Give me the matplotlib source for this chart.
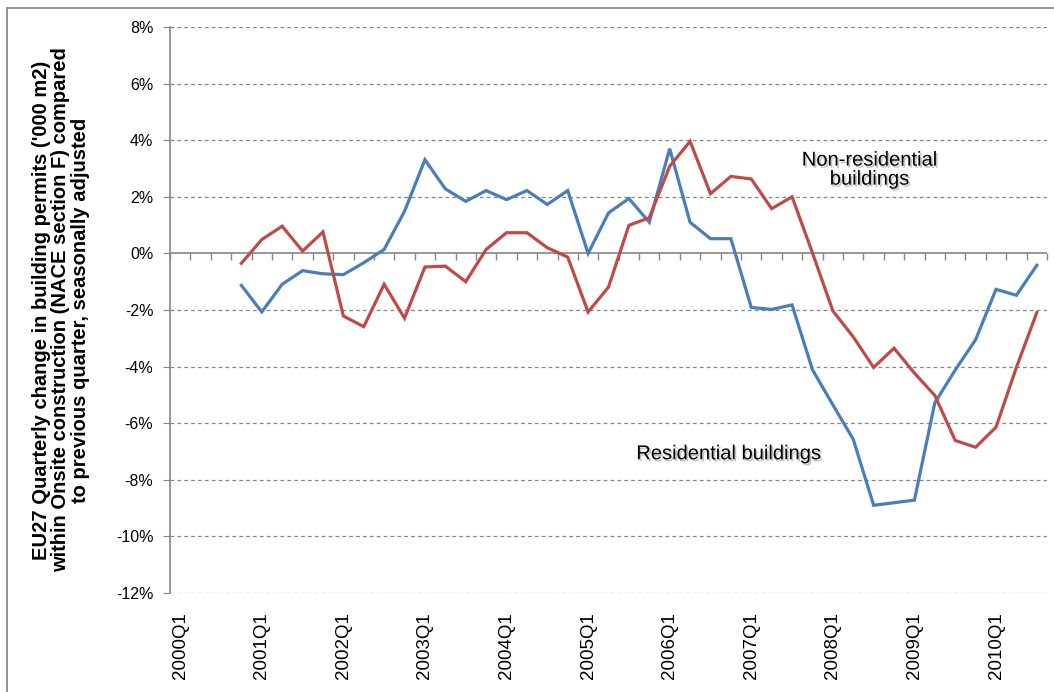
import numpy as np
import matplotlib
matplotlib.use("Agg")
import matplotlib.pyplot as plt
from matplotlib.patches import Rectangle
import matplotlib.patheffects as pe

plt.rcParams['font.family'] = ['Liberation Sans', 'DejaVu Sans']

# quarters 2000Q1 .. 2010Q3 (category axis)
quarters = ['%dQ%d' % (y, q) for y in range(2000, 2011) for q in range(1, 5)][:43]

# data starts at 2000Q4 (% change on previous quarter)
start = 3
residential = [-1.13, -2.07, -1.09, -0.61, -0.72, -0.75, -0.33, 0.14, 1.49, 3.31,
               2.28, 1.84, 2.22, 1.90, 2.22, 1.73, 2.22, 0.00, 1.43, 1.94,
               1.10, 3.70, 1.10, 0.52, 0.52, -1.91, -1.98, -1.82, -4.11, -5.35,
               -6.57, -8.90, -8.81, -8.72, -5.28, -4.12, -3.05, -1.27, -1.48, -0.42]
non_residential = [-0.35, 0.49, 0.96, 0.08, 0.76, -2.21, -2.59, -1.09, -2.29, -0.48,
                   -0.45, -1.00, 0.14, 0.73, 0.73, 0.20, -0.13, -2.07, -1.19, 0.99,
                   1.26, 3.08, 3.96, 2.11, 2.72, 2.63, 1.58, 2.00, 0.02, -2.03,
                   -2.95, -4.03, -3.35, -4.23, -5.02, -6.61, -6.85, -6.14, -4.03, -2.09]

yticks = list(range(-12, 10, 2))

blue = '#4A7EBB'
red = '#BE4B48'
axis_grey = '#868686'

fig = plt.figure(figsize=(10.54, 6.92), dpi=100)
ax = fig.add_axes([170 / 1054, 1 - 593 / 692, (1047 - 170) / 1054, (593 - 27) / 692])

x = np.arange(start, start + len(residential))
ax.plot(x, residential, color=blue, lw=2.3, solid_joinstyle='miter', zorder=3)
ax.plot(x, non_residential, color=red, lw=2.3, solid_joinstyle='miter', zorder=3)

ax.set_xlim(-0.5, len(quarters) - 0.5)
ax.set_ylim(-12, 8)

# y axis
ax.set_yticks(yticks)
ax.set_yticklabels(['%d%%' % v for v in yticks], fontsize=11.5)
ax.tick_params(axis='y', direction='out', length=5, color=axis_grey, pad=7)
for v in yticks:
    if v != 0:
        ax.axhline(v, color=axis_grey, lw=0.9, ls=(0, (3, 2.5)), zorder=1)
ax.axhline(0, color=axis_grey, lw=1.2, zorder=2)

# category tick marks hanging under the zero line
bounds = np.arange(len(quarters) + 1) - 0.5
ax.vlines(bounds, -0.22, 0, color=axis_grey, lw=1.0, zorder=2, clip_on=False)

# x labels at the bottom
major = list(range(0, len(quarters), 4))
ax.set_xticks(major)
ax.set_xticklabels([quarters[i] for i in major], rotation=90, fontsize=13.5, va='top')
ax.tick_params(axis='x', length=0, pad=14)

for s in ['top', 'right', 'bottom']:
    ax.spines[s].set_visible(False)
ax.spines['left'].set_color(axis_grey)
ax.spines['left'].set_linewidth(1.2)

# annotations
shadow = [pe.withSimplePatchShadow(offset=(1.2, -1.5), shadow_rgbFace='#555555', alpha=0.35)]
ax.text(33.8, 2.96, 'Non-residential\nbuildings', ha='center', va='center',
        fontsize=14.5, linespacing=1.0, path_effects=shadow)
ax.text(26.9, -7.08, 'Residential buildings', ha='center', va='center',
        fontsize=14.5, path_effects=shadow)

# y axis title
fig.text(61 / 1054, 1 - 310 / 692,
         "EU27 Quarterly change in building permits ('000 m2)\n"
         "within Onsite construction (NACE section F) compared\n"
         "to previous quarter, seasonally adjusted",
         rotation=90, ha='center', va='center', multialignment='center',
         fontsize=14.5, fontweight='bold', linespacing=1.05,
         family=['Liberation Sans Narrow', 'Liberation Sans', 'DejaVu Sans'])

# outer chart border
fig.patches.append(Rectangle((7 / 1054, -0.1), 1.2, 1.1 - 8 / 692,
                             transform=fig.transFigure, fill=False,
                             edgecolor='#8c8c8c', lw=1.3))

fig.savefig('out.png', dpi=100)
